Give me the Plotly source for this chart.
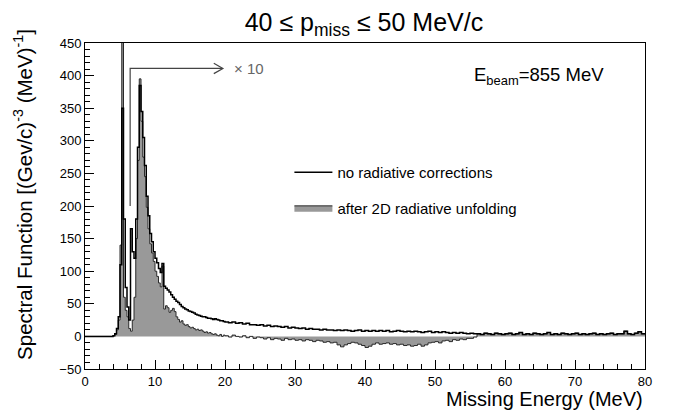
import numpy as np
import plotly.graph_objects as go

# ---------------- data ----------------
# fine bins (0.25 MeV) from 3.5 to 20 MeV, coarse bins (0.5 MeV) from 20 to 80 MeV (left edges)
energy_fine = np.arange(3.5, 20.0, 0.25)
energy_coarse = np.arange(20.0, 80.0, 0.5)

no_rad_fine = [
    0, 0, 1, 4, 12, 30, 110, 350, 180, 75,
    45, 25, 165, 130, 120, 180, 290, 385, 345, 305,
    262, 215, 185, 158, 145, 130, 120, 113, 104, 98,
    112, 77, 74, 71, 68, 64, 60, 57, 54, 52,
    49, 46, 44, 42, 41, 39, 38, 37, 36, 34,
    33, 32, 31, 30, 30, 29, 28, 28, 27, 26,
    27, 26, 25, 24, 24, 23,
]
unfolded_fine = [
    0, 0, 1, 3, 10, 25, 140, 600, 60, 40,
    30, 12, 8, 25, 60, 150, 270, 395, 330, 275,
    245, 198, 165, 142, 128, 115, 100, 92, 82, 76,
    108, 42, 47, 44, 37, 40, 43, 38, 30, 26,
    22, 24, 19, 17, 18, 15, 13, 14, 12, 10,
    11, 9, 10, 8, 6, 7, 5, 6, 4, 3,
    4, 2, 1, 3, 0, 2,
]
no_rad_coarse = [
    22, 21, 22, 20, 21, 19, 20, 18, 18, 17,
    18, 16, 17, 15, 16, 15, 14, 15, 13, 14,
    13, 12, 13, 11, 12, 11, 11, 10, 11, 10,
    10, 9, 10, 9, 10, 9, 8, 9, 10, 8,
    9, 8, 9, 8, 9, 8, 9, 7, 8, 9,
    8, 7, 8, 7, 8, 7, 6, 7, 8, 6,
    7, 6, 7, 6, 5, 6, 5, 6, 5, 4,
    5, 4, 4, 3, 5, 4, 3, 5, 4, 3,
    4, 5, 3, 4, 6, 3, 4, 3, 5, 4,
    3, 4, 6, 3, 4, 3, 5, 4, 3, 4,
    5, 3, 4, 3, 4, 5, 3, 4, 3, 4,
    5, 3, 4, 4, 8, 4, 3, 5, 7, 4,
]
unfolded_coarse = [
    1, -1, 2, 0, -1, 1, -2, 0, -3, -1,
    -2, -4, -2, -5, -3, -4, -6, -3, -5, -4,
    -6, -5, -7, -5, -6, -8, -6, -7, -9, -8,
    -10, -9, -13, -16, -13, -11, -9, -10, -12, -14,
    -17, -15, -12, -10, -12, -11, -10, -12, -11, -13,
    -12, -14, -13, -15, -14, -12, -15, -13, -10, -9,
    -8, -10, -7, -6, -8, -5, -6, -4, -5, -3,
    -3, -1, 4, 3, 5, 4, 3, 5, 4, 3,
    4, 5, 3, 4, 6, 3, 4, 3, 5, 4,
    3, 4, 6, 3, 4, 3, 5, 4, 3, 4,
    5, 3, 4, 3, 4, 5, 3, 4, 3, 4,
    5, 3, 4, 4, 8, 4, 3, 5, 7, 4,
]

x_ticks = [0, 10, 20, 30, 40, 50, 60, 70, 80]
y_ticks = [-50, 0, 50, 100, 150, 200, 250, 300, 350, 400, 450]

# assemble step histograms (start at 0, close at 80)
energy = [0.0] + list(energy_fine) + list(energy_coarse) + [80.0]
no_rad = [0] + no_rad_fine + no_rad_coarse + [no_rad_coarse[-1]]
unfolded = [0] + unfolded_fine + unfolded_coarse + [unfolded_coarse[-1]]

FONT = "Liberation Sans, Arial, Helvetica, sans-serif"

fig = go.Figure()
fig.add_trace(go.Scatter(
    x=energy, y=unfolded, mode="lines", name="after 2D radiative unfolding",
    line=dict(shape="hv", color="#2a2a2a", width=1),
    fill="tozeroy", fillcolor="#999999", legendrank=2, legendgroup="b",
))
fig.add_trace(go.Scatter(
    x=energy, y=no_rad, mode="lines", name="no radiative corrections",
    line=dict(shape="hv", color="black", width=1.5), legendrank=1, legendgroup="a",
))

# x10 arrow
fig.add_shape(type="path", xref="x", yref="y",
              path="M 6.45,200 L 6.45,411 L 19.6,411",
              line=dict(color="#444444", width=1.2))
fig.add_shape(type="path", xref="x", yref="y",
              path="M 18.4,419 L 19.7,411 L 18.4,403",
              line=dict(color="#444444", width=1.2))
fig.add_annotation(x=21.0, y=411, xref="x", yref="y", text="× 10", showarrow=False,
                   xanchor="left", yanchor="middle", font=dict(size=15, color="#666666", family=FONT))
fig.add_annotation(x=55.3, y=400, xref="x", yref="y", text="E<sub>beam</sub>=855 MeV", showarrow=False,
                   xanchor="left", yanchor="middle", font=dict(size=18.5, color="black", family=FONT))

# axis titles
fig.add_annotation(x=1, y=0, xref="paper", yref="paper", text="Missing Energy (MeV)", showarrow=False,
                   xanchor="right", yanchor="middle", yshift=-30, font=dict(size=20, color="black", family=FONT))
fig.add_annotation(x=0, y=0.534, xref="paper", yref="paper",
                   text="Spectral Function [(Gev/c)<sup>-3</sup> (MeV)<sup>-1</sup>]", showarrow=False,
                   textangle=-90, xanchor="center", yanchor="middle", xshift=-62,
                   font=dict(size=20.5, color="black", family=FONT))

axis_common = dict(showline=True, linecolor="black", linewidth=1, mirror=True, showgrid=False,
                   zeroline=False, ticks="inside", tickcolor="black", tickfont=dict(size=13, color="black", family=FONT))

fig.update_layout(
    width=669, height=412,
    margin=dict(l=77, r=32, t=35, b=51),
    paper_bgcolor="white", plot_bgcolor="white",
    font=dict(family=FONT, color="black"),
    title=dict(text="40 ≤ p<sub>miss</sub> ≤ 50 MeV/c", x=0.532, xanchor="center",
               y=0.965, yanchor="middle", font=dict(size=25, color="black", family=FONT)),
    xaxis=dict(range=[0, 80], tickvals=x_ticks, ticklen=9,
               minor=dict(dtick=2, ticklen=5, ticks="inside", tickcolor="black"), **axis_common),
    yaxis=dict(range=[-50, 450], tickvals=y_ticks, ticklen=9,
               minor=dict(dtick=10, ticklen=5, ticks="inside", tickcolor="black"), **axis_common),
    showlegend=True,
    legend=dict(x=0.365, y=0.653, xanchor="left", yanchor="top", bgcolor="rgba(0,0,0,0)",
                font=dict(size=15, color="black", family=FONT), traceorder="grouped", tracegroupgap=13,
                itemwidth=38),
)

fig.write_html("out.html")
